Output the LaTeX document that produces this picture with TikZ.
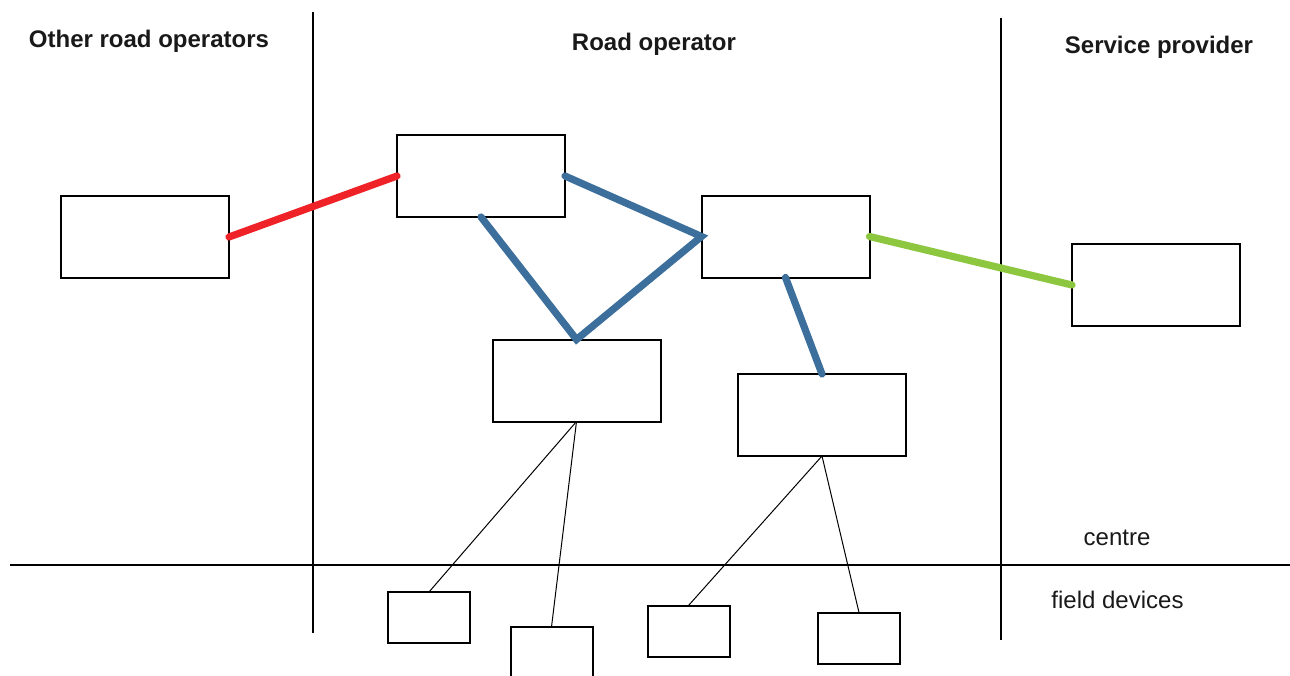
\documentclass[tikz,border=0pt]{standalone}
\usepackage{fontspec}
\setmainfont{Liberation Sans}
\definecolor{linkred}{HTML}{EE2227}
\definecolor{linkblue}{HTML}{3D6F9C}
\definecolor{linkgreen}{HTML}{8DC63F}
\begin{document}
\begin{tikzpicture}[x=0.5pt,y=-0.5pt,
  cbox/.style={draw=black,line width=1pt,fill=white,inner sep=0pt,outer sep=0pt,minimum width=84pt,minimum height=41pt},
  fbox/.style={draw=black,line width=1pt,fill=white,inner sep=0pt,outer sep=0pt,minimum width=41pt,minimum height=25.5pt},
  divider/.style={draw=black,line width=1pt},
  thick link/.style={line width=3.6pt,line cap=round,line join=miter},
  thin link/.style={draw=black,line width=0.5pt},
  heading/.style={font=\fontsize{12}{14}\selectfont\bfseries,text=black!90,inner sep=0pt},
  label/.style={font=\fontsize{12}{14}\selectfont,text=black!90,inner sep=0pt}]
\useasboundingbox (0,0) rectangle (1290,675);
% dividers
\draw[divider] (313,12) -- (313,633);
\draw[divider] (1001,18) -- (1001,640);
\draw[divider] (10,565) -- (1290,565);
% headings
\node[heading] (h1) at (149,41.5) {Other road operators};
\node[heading] (h2) at (654,44.5) {Road operator};
\node[heading] (h3) at (1159,47.5) {Service provider};
\node[label] (l1) at (1117,538) {centre};
\node[label] (l2) at (1117.5,600) {field devices};
% boxes
\node[cbox] (A) at (145,237) {};
\node[cbox] (B) at (481,176) {};
\node[cbox] (C) at (785.5,236.5) {};
\node[cbox] (D) at (1156,285) {};
\node[cbox] (E) at (576.5,380.5) {};
\node[cbox] (F) at (822,415) {};
\node[fbox] (G1) at (429,617.5) {};
\node[fbox] (G2) at (551.5,652.5) {};
\node[fbox] (G3) at (688.5,631) {};
\node[fbox] (G4) at (859,638) {};
% thin links
\draw[thin link] (E.south) -- (G1.north);
\draw[thin link] (E.south) -- (G2.north);
\draw[thin link] (F.south) -- (G3.north);
\draw[thin link] (F.south) -- (G4.north);
% thick links
\draw[thick link,draw=linkred] (A.east) -- (B.west);
\draw[thick link,draw=linkblue] (B.south) -- (E.north) -- (C.west) -- (B.east);
\draw[thick link,draw=linkblue] (C.south) -- (F.north);
\draw[thick link,draw=linkgreen] (C.east) -- (D.west);
\end{tikzpicture}
\end{document}
